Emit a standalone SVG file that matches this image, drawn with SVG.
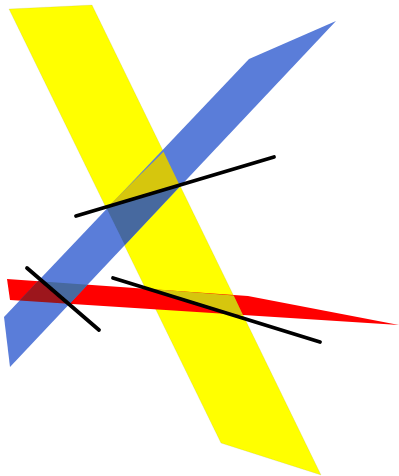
<svg xmlns="http://www.w3.org/2000/svg" width="399" height="476" viewBox="0 0 399 476">
<defs>
<style>
.yellow{fill:#ffff00;stroke:#8a8a6a;stroke-width:.4;stroke-opacity:.35}
.red{fill:#ff0000}
.blue{fill:#5a7dd9}
.olive{fill:#d6c60f}
.slate{fill:#46699f}
.dred{fill:#9c121c}
.line{stroke:#000;stroke-width:3.8;stroke-linecap:round;fill:none}
</style>
<filter id="soft" x="-5%" y="-5%" width="110%" height="110%"><feGaussianBlur stdDeviation="0.6"/></filter>
</defs>
<rect width="399" height="476" fill="#fff"/>
<g filter="url(#soft)">
<polygon id="plane-yellow" class="yellow" points="9,9 92,5 321,475 221,443"/>
<polygon id="plane-red" class="red" points="7,279 248,296 399,325 10,300"/>
<polygon id="plane-blue" class="blue" points="4,317 249,59 336,21 10,367"/>
<polygon class="olive" points="163.5,151.7 180,186 106.5,208"/>
<polygon class="slate" points="106.5,208 180,186 124.8,245"/>
<polygon class="dred" points="38,281 42.7,281.5 68.5,303.8 19.5,300.6"/>
<polygon class="slate" points="42.7,281.5 87.5,284.7 69.5,303.9 68.5,303.8"/>
<polygon class="olive" points="146.5,288.5 233.7,295.4 243,315 230,314"/>
<line class="line" x1="76" y1="216" x2="274" y2="157"/>
<line class="line" x1="27" y1="268" x2="99" y2="330"/>
<line class="line" x1="113" y1="278" x2="320" y2="342"/>
</g>
</svg>
